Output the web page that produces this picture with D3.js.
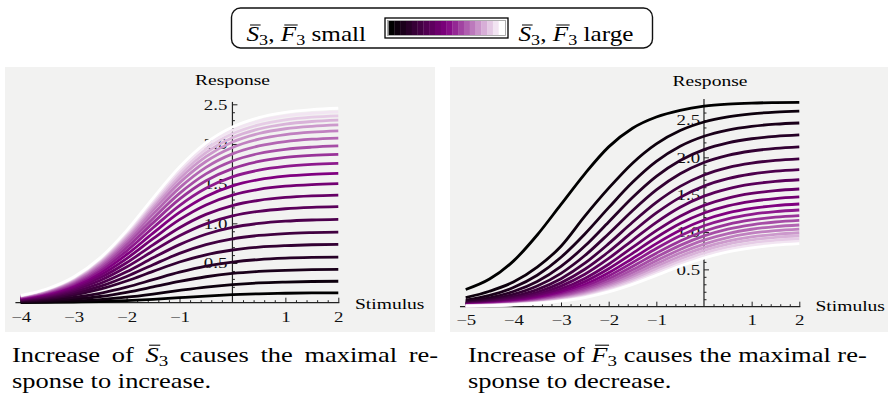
<!DOCTYPE html>
<html>
<head>
<meta charset="utf-8">
<script src="https://cdn.jsdelivr.net/npm/d3@7"></script>
<style>
  body { margin: 0; background: #fff; }
  svg { display: block; font-family: 'Liberation Serif', 'Times New Roman', serif; }
  text { white-space: pre; }
</style>
</head>
<body>
<svg id="chart" width="888" height="395"></svg>
<script>
// stimulus samples and responses
const stimulusLeft = [-4, -3.5, -3, -2.5, -2, -1.5, -1, -0.5, 0, 0.5, 1, 1.5, 2];
// bottom (S3 small, black) to top (S3 large, white)
const responseLeft = [
  [0.002, 0.004, 0.008, 0.015, 0.026, 0.043, 0.064, 0.084, 0.101, 0.112, 0.119, 0.123, 0.125],
  [0.006, 0.012, 0.022, 0.040, 0.069, 0.109, 0.155, 0.197, 0.228, 0.249, 0.260, 0.267, 0.270],
  [0.012, 0.024, 0.044, 0.078, 0.131, 0.198, 0.268, 0.327, 0.369, 0.394, 0.408, 0.416, 0.420],
  [0.019, 0.037, 0.068, 0.119, 0.196, 0.290, 0.384, 0.461, 0.512, 0.544, 0.561, 0.570, 0.575],
  [0.028, 0.053, 0.097, 0.170, 0.273, 0.395, 0.513, 0.604, 0.664, 0.700, 0.719, 0.730, 0.735],
  [0.034, 0.064, 0.117, 0.205, 0.330, 0.479, 0.621, 0.731, 0.804, 0.847, 0.871, 0.883, 0.890],
  [0.040, 0.076, 0.139, 0.242, 0.389, 0.565, 0.732, 0.863, 0.949, 0.999, 1.027, 1.042, 1.050],
  [0.046, 0.087, 0.160, 0.279, 0.449, 0.651, 0.844, 0.994, 1.093, 1.152, 1.184, 1.201, 1.210],
  [0.051, 0.098, 0.179, 0.313, 0.503, 0.729, 0.945, 1.113, 1.224, 1.290, 1.326, 1.345, 1.355],
  [0.057, 0.108, 0.198, 0.346, 0.556, 0.807, 1.046, 1.232, 1.355, 1.428, 1.468, 1.489, 1.500],
  [0.062, 0.117, 0.215, 0.376, 0.605, 0.877, 1.137, 1.339, 1.473, 1.551, 1.595, 1.618, 1.630],
  [0.067, 0.126, 0.232, 0.405, 0.651, 0.944, 1.224, 1.442, 1.586, 1.670, 1.717, 1.742, 1.755],
  [0.071, 0.135, 0.247, 0.432, 0.694, 1.006, 1.304, 1.536, 1.690, 1.780, 1.830, 1.856, 1.870],
  [0.075, 0.142, 0.261, 0.456, 0.733, 1.062, 1.377, 1.623, 1.785, 1.880, 1.933, 1.960, 1.975],
  [0.079, 0.149, 0.274, 0.479, 0.770, 1.116, 1.447, 1.705, 1.875, 1.975, 2.030, 2.060, 2.075],
  [0.082, 0.156, 0.286, 0.500, 0.803, 1.164, 1.510, 1.779, 1.956, 2.061, 2.118, 2.149, 2.165],
  [0.085, 0.161, 0.296, 0.517, 0.831, 1.205, 1.562, 1.840, 2.024, 2.132, 2.192, 2.223, 2.240],
  [0.087, 0.166, 0.304, 0.531, 0.853, 1.237, 1.604, 1.890, 2.078, 2.189, 2.251, 2.283, 2.300],
  [0.089, 0.170, 0.311, 0.544, 0.873, 1.267, 1.642, 1.935, 2.128, 2.241, 2.304, 2.338, 2.355],
  [0.091, 0.173, 0.317, 0.555, 0.892, 1.293, 1.677, 1.976, 2.173, 2.289, 2.353, 2.387, 2.405],
  [0.093, 0.176, 0.323, 0.565, 0.909, 1.318, 1.709, 2.013, 2.214, 2.332, 2.397, 2.432, 2.450]
];

const stimulusRight = [-5, -4.5, -4, -3.5, -3, -2.5, -2, -1.5, -1, -0.5, 0, 0.5, 1, 1.5, 2];
// top (F3 small, black) to bottom (F3 large, white)
const responseRight = [
  [0.230, 0.370, 0.610, 0.960, 1.370, 1.780, 2.140, 2.390, 2.540, 2.630, 2.685, 2.713, 2.727, 2.733, 2.736],
  [0.121, 0.207, 0.330, 0.530, 0.810, 1.213, 1.587, 1.922, 2.181, 2.359, 2.473, 2.542, 2.583, 2.606, 2.620],
  [0.087, 0.151, 0.256, 0.421, 0.662, 0.974, 1.326, 1.665, 1.945, 2.148, 2.282, 2.365, 2.415, 2.444, 2.460],
  [0.068, 0.119, 0.203, 0.338, 0.540, 0.812, 1.135, 1.462, 1.745, 1.958, 2.103, 2.194, 2.249, 2.281, 2.300],
  [0.055, 0.096, 0.165, 0.277, 0.447, 0.685, 0.978, 1.286, 1.564, 1.780, 1.931, 2.027, 2.085, 2.120, 2.140],
  [0.045, 0.079, 0.136, 0.229, 0.375, 0.582, 0.844, 1.130, 1.397, 1.611, 1.764, 1.863, 1.923, 1.959, 1.980],
  [0.038, 0.066, 0.115, 0.194, 0.319, 0.501, 0.736, 1.001, 1.255, 1.464, 1.615, 1.715, 1.777, 1.814, 1.835],
  [0.032, 0.056, 0.098, 0.166, 0.275, 0.434, 0.646, 0.889, 1.129, 1.331, 1.480, 1.579, 1.641, 1.678, 1.700],
  [0.028, 0.048, 0.084, 0.143, 0.238, 0.379, 0.569, 0.793, 1.018, 1.212, 1.357, 1.455, 1.517, 1.554, 1.576],
  [0.024, 0.042, 0.073, 0.126, 0.210, 0.336, 0.508, 0.715, 0.927, 1.113, 1.254, 1.350, 1.411, 1.448, 1.470],
  [0.021, 0.037, 0.064, 0.110, 0.185, 0.298, 0.455, 0.646, 0.845, 1.023, 1.161, 1.256, 1.317, 1.353, 1.375],
  [0.019, 0.033, 0.057, 0.099, 0.166, 0.269, 0.412, 0.590, 0.779, 0.950, 1.084, 1.177, 1.237, 1.274, 1.295],
  [0.017, 0.029, 0.051, 0.088, 0.149, 0.242, 0.374, 0.539, 0.717, 0.881, 1.011, 1.103, 1.162, 1.199, 1.220],
  [0.015, 0.026, 0.046, 0.079, 0.134, 0.219, 0.340, 0.494, 0.663, 0.821, 0.948, 1.039, 1.097, 1.134, 1.155],
  [0.014, 0.024, 0.042, 0.072, 0.122, 0.200, 0.312, 0.456, 0.616, 0.767, 0.891, 0.979, 1.037, 1.073, 1.094],
  [0.012, 0.022, 0.038, 0.066, 0.111, 0.183, 0.287, 0.422, 0.574, 0.720, 0.839, 0.926, 0.984, 1.019, 1.040],
  [0.011, 0.020, 0.035, 0.060, 0.102, 0.168, 0.265, 0.391, 0.536, 0.676, 0.792, 0.877, 0.934, 0.969, 0.990],
  [0.010, 0.018, 0.032, 0.055, 0.094, 0.155, 0.246, 0.365, 0.503, 0.639, 0.753, 0.838, 0.894, 0.929, 0.950],
  [0.009, 0.017, 0.029, 0.051, 0.086, 0.143, 0.228, 0.340, 0.472, 0.603, 0.715, 0.798, 0.854, 0.889, 0.910],
  [0.009, 0.015, 0.027, 0.047, 0.080, 0.133, 0.212, 0.318, 0.444, 0.571, 0.681, 0.763, 0.819, 0.854, 0.875],
  [0.008, 0.014, 0.025, 0.043, 0.074, 0.123, 0.198, 0.299, 0.419, 0.543, 0.651, 0.733, 0.788, 0.824, 0.845]
];

const xTicksLeft = [-4, -3, -2, -1, 1, 2];
const xTicksRight = [-5, -4, -3, -2, -1, 1, 2];
const yTicks = [0.5, 1.0, 1.5, 2.0, 2.5];

const SX = 1.26; // the figure is stretched sideways, text too
const svg = d3.select('#chart');
const shade = d3.scaleLinear().domain([0, 0.5, 1]).range(['#000000', '#800080', '#ffffff']);

function label(x, y, str, size, anchor) {
  svg.append('text')
    .attr('transform', `translate(${x},${y}) scale(${SX},1)`)
    .attr('font-size', size)
    .attr('text-anchor', anchor || 'start')
    .text(str);
}

// one text with overbarred italic letters and subscripts
function rich(x, y, parts, size, ws) {
  const g = svg.append('g').attr('transform', `translate(${x},${y}) scale(${SX},1)`);
  const t = g.append('text').attr('font-size', size);
  if (ws) t.attr('word-spacing', ws);
  let idx = 0, shift = 0;
  const bars = [];
  parts.forEach(p => {
    const s = t.append('tspan').text(p.t);
    const want = p.sub ? size * 0.2 : 0;
    if (want !== shift) { s.attr('dy', want - shift); shift = want; }
    if (p.it) s.attr('font-style', 'italic');
    if (p.sub) s.attr('font-size', size * 0.72);
    if (p.bar) bars.push(idx);
    idx += p.t.length;
  });
  bars.forEach(i => {
    const a = t.node().getStartPositionOfChar(i).x;
    const b = t.node().getEndPositionOfChar(i).x;
    g.append('line')
      .attr('x1', a + size * 0.14).attr('x2', b + size * 0.06)
      .attr('y1', -size * 0.8).attr('y2', -size * 0.8)
      .attr('stroke', '#000').attr('stroke-width', size * 0.05);
  });
}

function panel(o) {
  svg.append('rect')
    .attr('x', o.bg[0]).attr('y', o.bg[1]).attr('width', o.bg[2]).attr('height', o.bg[3])
    .attr('fill', '#f2f2f1');

  const x = d3.scaleLinear().domain(o.xDomain).range(o.xRange);
  const y = d3.scaleLinear().domain([0, 2.5]).range(o.yRange);
  const g = svg.append('g').attr('color', '#222');

  const xs = d3.range(o.xDomain[0], o.xDomain[1] + 0.001, 0.2).filter(v => Math.abs(v - Math.round(v)) > 1e-6);
  const ys = d3.range(0.1, o.yTop, 0.1).filter(v => Math.abs(v * 2 - Math.round(v * 2)) > 1e-6);

  const xMinor = g.append('g').attr('transform', `translate(0,${y(0)})`)
    .call(d3.axisBottom(x).tickValues(xs).tickSize(-2.5).tickSizeOuter(0).tickFormat(''));
  const xMajor = g.append('g').attr('transform', `translate(0,${y(0)})`)
    .call(d3.axisBottom(x).tickValues(o.xTicks).tickSize(-5).tickSizeOuter(0)
      .tickPadding(o.xPad).tickFormat(d3.format('d')));
  const yMinor = g.append('g').attr('transform', `translate(${x(0)},0)`)
    .call(d3.axisLeft(y).tickValues(ys).tickSize(-2.5).tickSizeOuter(0).tickFormat(''));
  const yMajor = g.append('g').attr('transform', `translate(${x(0)},0)`)
    .call(d3.axisLeft(y).tickValues(yTicks).tickSize(-5).tickSizeOuter(0)
      .tickPadding(o.yPad).tickFormat(d3.format('.1f')));

  [xMinor, xMajor, yMinor, yMajor].forEach(a => {
    a.attr('font-family', null).attr('font-size', 15);
    a.select('.domain').remove();
    a.selectAll('line').attr('stroke-width', 1);
    a.selectAll('text').attr('fill', '#111').attr('transform', `scale(${SX},1)`);
  });

  g.append('line')
    .attr('x1', x(o.xAxisFrom)).attr('x2', x(o.xDomain[1]) + 1)
    .attr('y1', y(0)).attr('y2', y(0))
    .attr('stroke', '#222').attr('stroke-width', 1.2);
  g.append('line')
    .attr('x1', x(0)).attr('x2', x(0))
    .attr('y1', y(0)).attr('y2', y(o.yTop))
    .attr('stroke', '#222').attr('stroke-width', 1.2);

  const line = d3.line()
    .x((d, k) => x(o.stim[k]))
    .y(d => y(d))
    .curve(d3.curveMonotoneX);

  svg.append('g')
    .selectAll('path')
    .data(o.resp)
    .join('path')
    .attr('d', line)
    .attr('fill', 'none')
    .attr('stroke', (d, i) => shade(i / (o.resp.length - 1)))
    .attr('stroke-width', 2.8);

  label(o.respAt[0], o.respAt[1], 'Response', 15.5, 'middle');
  label(o.stimAt[0], o.stimAt[1], 'Stimulus', 15.5, 'start');
}

panel({
  bg: [5, 67, 430, 265],
  xDomain: [-4, 2], xRange: [20.7, 338.3], yRange: [302.7, 104.3],
  xAxisFrom: -4.1, yTop: 2.53,
  xTicks: xTicksLeft, xPad: 9, yPad: 4,
  stim: stimulusLeft, resp: responseLeft,
  respAt: [232.5, 84.5], stimAt: [355, 308.5]
});

panel({
  bg: [450, 67, 438, 265],
  xDomain: [-5, 2], xRange: [465.7, 799.3], yRange: [306.7, 120],
  xAxisFrom: -5.12, yTop: 2.78,
  xTicks: xTicksRight, xPad: 8, yPad: 3,
  stim: stimulusRight, resp: responseRight,
  respAt: [710, 86], stimAt: [815.5, 310.5]
});

// legend
svg.append('rect')
  .attr('x', 231.5).attr('y', 8).attr('width', 421).attr('height', 40).attr('rx', 9)
  .attr('fill', '#fff').attr('stroke', '#111').attr('stroke-width', 1.4);

const barX = d3.scaleLinear().domain([0, 20]).range([388.5, 504.5]);
svg.append('rect')
  .attr('x', 385).attr('y', 18).attr('width', 123).attr('height', 20)
  .attr('fill', '#fff').attr('stroke', '#000').attr('stroke-width', 1.3);
svg.append('g')
  .selectAll('rect')
  .data(d3.range(20))
  .join('rect')
  .attr('x', d => barX(d)).attr('y', 21)
  .attr('width', d => barX(d + 1) - barX(d) + 0.3).attr('height', 14)
  .attr('fill', d => shade(d / 19));
svg.append('rect')
  .attr('x', 387.5).attr('y', 20.5).attr('width', 118).attr('height', 15)
  .attr('fill', 'none').attr('stroke', '#999').attr('stroke-width', 0.8);

const S3F3 = [
  { t: 'S', it: true, bar: true }, { t: '3', sub: true }, { t: ', ' },
  { t: 'F', it: true, bar: true }, { t: '3', sub: true }
];
rich(246.5, 41, S3F3.concat([{ t: ' small' }]), 20);
rich(518.5, 41, S3F3.concat([{ t: ' large' }]), 20);

// captions
rich(12, 362, [{ t: 'Increase of ' }, { t: 'S', it: true, bar: true }, { t: '3', sub: true },
  { t: ' causes the maximal re-' }], 21, 4);
label(12, 388, 'sponse to increase.', 21, 'start');
rich(468, 362, [{ t: 'Increase of ' }, { t: 'F', it: true, bar: true }, { t: '3', sub: true },
  { t: ' causes the maximal re-' }], 21);
label(468, 388, 'sponse to decrease.', 21, 'start');
</script>
</body>
</html>
